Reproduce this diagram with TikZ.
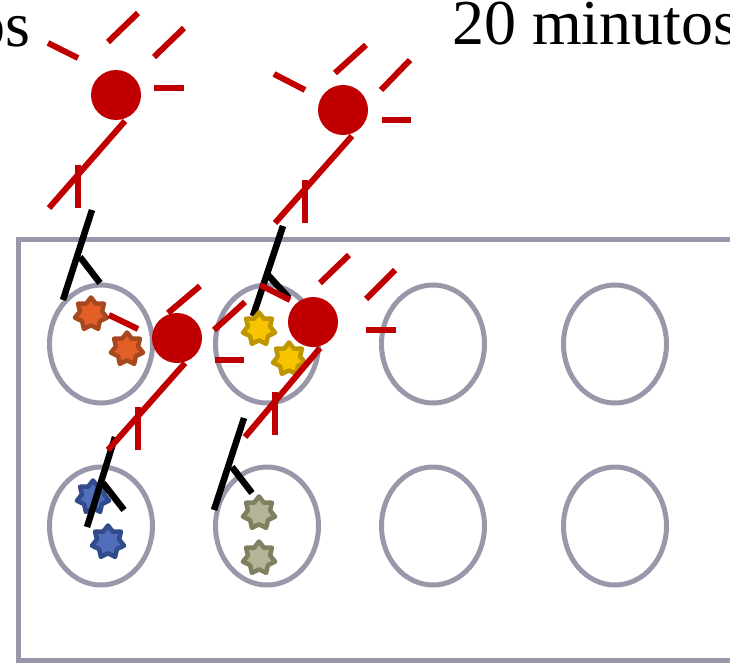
\documentclass[tikz,border=0pt]{standalone}
\usepackage{fontspec}
\setmainfont{Liberation Serif}
\usetikzlibrary{shapes.geometric}
\definecolor{plate}{RGB}{152,152,170}
\definecolor{abred}{RGB}{192,0,0}
\definecolor{orfill}{RGB}{226,96,40}
\definecolor{ordraw}{RGB}{168,72,32}
\definecolor{yefill}{RGB}{248,196,0}
\definecolor{yedraw}{RGB}{190,150,0}
\definecolor{blfill}{RGB}{80,110,185}
\definecolor{bldraw}{RGB}{50,75,140}
\definecolor{khfill}{RGB}{180,180,150}
\definecolor{khdraw}{RGB}{128,128,96}
\begin{document}
\begin{tikzpicture}[x=1pt,y=-1pt,
  well/.style={draw=plate,line width=5pt,ellipse,minimum width=103pt,minimum height=118pt,inner sep=0pt},
  antigen/.style={star,star points=7,star point ratio=1.45,minimum size=33pt,inner sep=0pt,line width=4.5pt,line join=round},
  primary/.style={draw=black,line width=6.5pt},
  secondary/.style={draw=abred,line width=6pt},
  label/.style={inner sep=0pt,font=\fontsize{64}{70}\selectfont}
]
\useasboundingbox (0,0) rectangle (730,663);

% time labels
\node[label,anchor=base east] (t1) at (31,47) {os};
\node[label,anchor=base west] (t2) at (452,45) {20 minutos};

% plate outline
\draw[draw=plate,line width=5pt] (760,239) -- (18,239) -- (18,660) -- (760,660);

% wells
\foreach \r/\y in {1/344,2/526}
  \foreach \c/\x in {1/101,2/267,3/433,4/615}
    \node[well] (w\r\c) at (\x,\y) {};

% antigens under the primary antibodies
\node[antigen,fill=orfill,draw=ordraw] (s11a) at (91,314) {};
\node[antigen,fill=orfill,draw=ordraw] (s11b) at (127,349) {};
\node[antigen,fill=blfill,draw=bldraw] (s21a) at (93,497) {};
\node[antigen,fill=blfill,draw=bldraw] (s21b) at (108,542) {};
\node[antigen,fill=khfill,draw=khdraw] (s22a) at (259,513) {};
\node[antigen,fill=khfill,draw=khdraw] (s22b) at (259,558) {};

% primary antibodies (black)
\coordinate (p1a) at (92,210);  \coordinate (p1b) at (63,300);
\coordinate (p1c) at (80,257);  \coordinate (p1d) at (100,283);
\draw[primary] (p1a) -- (p1b);  \draw[primary] (p1c) -- (p1d);

\coordinate (p2a) at (283,226); \coordinate (p2b) at (253,316);
\coordinate (p2c) at (268,275); \coordinate (p2d) at (289,298);
\draw[primary] (p2a) -- (p2b);  \draw[primary] (p2c) -- (p2d);

\coordinate (p3a) at (115,437); \coordinate (p3b) at (87,527);
\coordinate (p3c) at (103,483); \coordinate (p3d) at (124,510);
\draw[primary] (p3a) -- (p3b);  \draw[primary] (p3c) -- (p3d);

\coordinate (p4a) at (244,418); \coordinate (p4b) at (214,510);
\coordinate (p4c) at (232,467); \coordinate (p4d) at (252,493);
\draw[primary] (p4a) -- (p4b);  \draw[primary] (p4c) -- (p4d);

% antigens above the primary antibodies
\node[antigen,fill=yefill,draw=yedraw] (s12a) at (259,329) {};
\node[antigen,fill=yefill,draw=yedraw] (s12b) at (289,359) {};

% secondary antibodies (red): label, stem, tick, rays
% A
\node[circle,fill=abred,minimum size=50pt,inner sep=0pt] (ba) at (116,95) {};
\draw[secondary] (125,121) -- (49,208);
\draw[secondary] (78,165) -- (78,208);
\draw[secondary] (48,43) -- (78,58);
\draw[secondary] (108,42) -- (138,13);
\draw[secondary] (154,57) -- (184,28);
\draw[secondary] (154,88) -- (184,88);
% B
\node[circle,fill=abred,minimum size=50pt,inner sep=0pt] (bb) at (343,110) {};
\draw[secondary] (352,136) -- (275,223);
\draw[secondary] (305,180) -- (305,223);
\draw[secondary] (274,74) -- (305,90);
\draw[secondary] (335,73) -- (366,45);
\draw[secondary] (381,90) -- (410,60);
\draw[secondary] (382,120) -- (411,120);
% C
\node[circle,fill=abred,minimum size=50pt,inner sep=0pt] (bc) at (177,338) {};
\draw[secondary] (185,363) -- (108,450);
\draw[secondary] (138,407) -- (138,450);
\draw[secondary] (109,315) -- (138,329);
\draw[secondary] (168,313) -- (200,286);
\draw[secondary] (214,330) -- (245,302);
\draw[secondary] (215,360) -- (244,360);
% D
\node[circle,fill=abred,minimum size=50pt,inner sep=0pt] (bd) at (313,322) {};
\draw[secondary] (320,348) -- (245,437);
\draw[secondary] (275,392) -- (275,435);
\draw[secondary] (260,285) -- (290,300);
\draw[secondary] (320,283) -- (349,255);
\draw[secondary] (366,299) -- (395,270);
\draw[secondary] (366,330) -- (396,330);
\end{tikzpicture}
\end{document}
